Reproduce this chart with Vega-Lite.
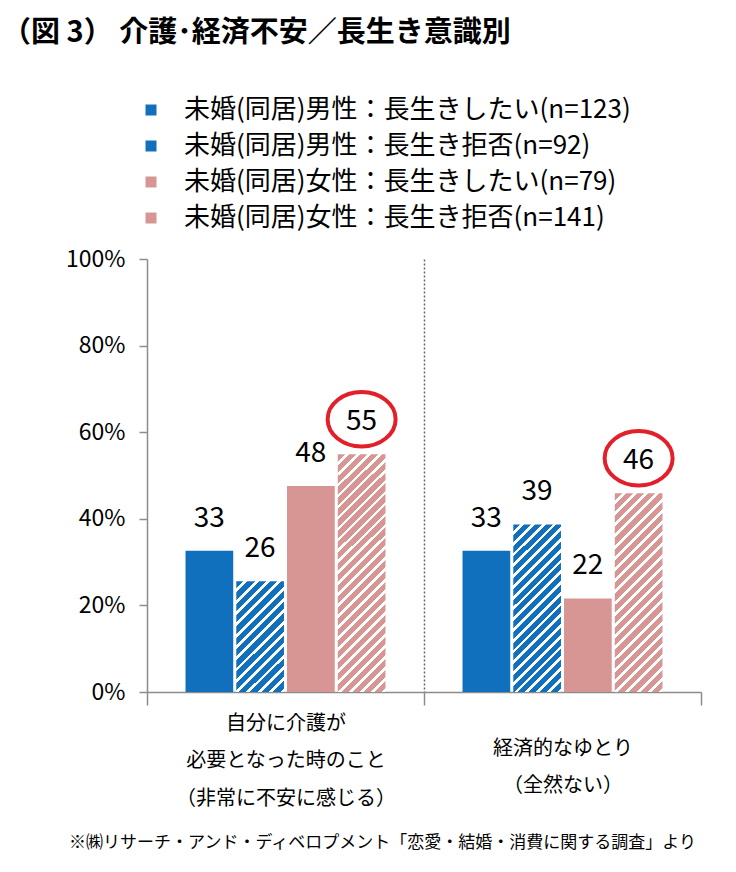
{
  "$schema": "https://vega.github.io/schema/vega-lite/v6.json",
  "width": 554,
  "height": 433,
  "autosize": {"type": "none"},
  "padding": {"left": 147, "top": 259, "right": 35, "bottom": 180},
  "background": "white",
  "config": {"font": "Noto Sans CJK JP", "view": {"stroke": null}},
  "title": {
    "text": "（図 3） 介護･経済不安／長生き意識別",
    "anchor": "start",
    "frame": "group",
    "dx": -145,
    "fontSize": 29,
    "fontWeight": "bold",
    "font": "Noto Sans CJK JP",
    "color": "#000000",
    "offset": 49
  },
  "data": {
    "values": [
      {"group": "自分に介護が|必要となった時のこと|（非常に不安に感じる）", "series": "未婚(同居)男性：長生きしたい(n=123)", "value": 32.6},
      {"group": "自分に介護が|必要となった時のこと|（非常に不安に感じる）", "series": "未婚(同居)男性：長生き拒否(n=92)", "value": 25.6},
      {"group": "自分に介護が|必要となった時のこと|（非常に不安に感じる）", "series": "未婚(同居)女性：長生きしたい(n=79)", "value": 47.6},
      {"group": "自分に介護が|必要となった時のこと|（非常に不安に感じる）", "series": "未婚(同居)女性：長生き拒否(n=141)", "value": 54.9},
      {"group": "経済的なゆとり|（全然ない）", "series": "未婚(同居)男性：長生きしたい(n=123)", "value": 32.6},
      {"group": "経済的なゆとり|（全然ない）", "series": "未婚(同居)男性：長生き拒否(n=92)", "value": 38.7},
      {"group": "経済的なゆとり|（全然ない）", "series": "未婚(同居)女性：長生きしたい(n=79)", "value": 21.6},
      {"group": "経済的なゆとり|（全然ない）", "series": "未婚(同居)女性：長生き拒否(n=141)", "value": 45.9}
    ]
  },
  "encoding": {
    "x": {
      "field": "group",
      "type": "nominal",
      "sort": null,
      "scale": {"paddingInner": 0, "paddingOuter": 0},
      "axis": {
        "title": "※㈱リサーチ・アンド・ディベロプメント「恋愛・結婚・消費に関する調査」より",
        "titleFontSize": 17,
        "titleFontWeight": "normal",
        "titleColor": "#000000",
        "titleX": 235,
        "titleY": 150,
        "titleBaseline": "middle",
        "labelExpr": "split(datum.label, '|')",
        "labelAngle": 0,
        "labelFontSize": 20,
        "labelColor": "#000000",
        "labelLineHeight": 37.5,
        "labelBaseline": {"condition": {"test": "datum.index === 0", "value": "alphabetic"}, "value": "line-top"},
        "labelLimit": 400,
        "labelPadding": 24,
        "tickBand": "extent",
        "tickSize": 13,
        "tickColor": "#8c8c8c",
        "tickWidth": 1.5,
        "domainColor": "#8c8c8c",
        "domainWidth": 1.5,
        "grid": true,
        "gridColor": "#666666",
        "gridDash": [2, 2],
        "gridWidth": 1.5,
        "gridOpacity": {"condition": {"test": "datum.index === 0", "value": 1}, "value": 0}
      }
    },
    "xOffset": {
      "field": "series",
      "type": "nominal",
      "sort": null,
      "scale": {
        "domain": ["未婚(同居)男性：長生きしたい(n=123)", "未婚(同居)男性：長生き拒否(n=92)", "未婚(同居)女性：長生きしたい(n=79)", "未婚(同居)女性：長生き拒否(n=141)"],
        "paddingInner": 0.06,
        "paddingOuter": 0.759
      }
    },
    "y": {
      "field": "value",
      "type": "quantitative",
      "scale": {"domain": [0, 100]},
      "axis": {
        "title": null,
        "values": [0, 20, 40, 60, 80, 100],
        "labelExpr": "datum.value + '%'",
        "labelFontSize": 23,
        "labelColor": "#000000",
        "labelPadding": 14,
        "tickSize": 8,
        "tickColor": "#8c8c8c",
        "tickWidth": 1.5,
        "domainColor": "#8c8c8c",
        "domainWidth": 1.5,
        "grid": false
      }
    }
  },
  "layer": [
    {
      "mark": {"type": "bar"},
      "encoding": {
        "color": {
          "condition": [
            {
              "test": "datum.series === '未婚(同居)男性：長生き拒否(n=92)' && indexof(datum.group, '介護') >= 0",
              "value": {
                "gradient": "linear", "x1": 0, "y1": 0, "x2": 0.5185, "y2": 1.2068,
                "stops": [
                  {"offset": 0, "color": "#1170BD"}, {"offset": 0.0464, "color": "#1170BD"}, {"offset": 0.0464, "color": "#FFFFFF"}, {"offset": 0.0714, "color": "#FFFFFF"},
                  {"offset": 0.0714, "color": "#1170BD"}, {"offset": 0.1179, "color": "#1170BD"}, {"offset": 0.1179, "color": "#FFFFFF"}, {"offset": 0.1429, "color": "#FFFFFF"},
                  {"offset": 0.1429, "color": "#1170BD"}, {"offset": 0.1893, "color": "#1170BD"}, {"offset": 0.1893, "color": "#FFFFFF"}, {"offset": 0.2143, "color": "#FFFFFF"},
                  {"offset": 0.2143, "color": "#1170BD"}, {"offset": 0.2607, "color": "#1170BD"}, {"offset": 0.2607, "color": "#FFFFFF"}, {"offset": 0.2857, "color": "#FFFFFF"},
                  {"offset": 0.2857, "color": "#1170BD"}, {"offset": 0.3321, "color": "#1170BD"}, {"offset": 0.3321, "color": "#FFFFFF"}, {"offset": 0.3571, "color": "#FFFFFF"},
                  {"offset": 0.3571, "color": "#1170BD"}, {"offset": 0.4036, "color": "#1170BD"}, {"offset": 0.4036, "color": "#FFFFFF"}, {"offset": 0.4286, "color": "#FFFFFF"},
                  {"offset": 0.4286, "color": "#1170BD"}, {"offset": 0.475, "color": "#1170BD"}, {"offset": 0.475, "color": "#FFFFFF"}, {"offset": 0.5, "color": "#FFFFFF"},
                  {"offset": 0.5, "color": "#1170BD"}, {"offset": 0.5464, "color": "#1170BD"}, {"offset": 0.5464, "color": "#FFFFFF"}, {"offset": 0.5714, "color": "#FFFFFF"},
                  {"offset": 0.5714, "color": "#1170BD"}, {"offset": 0.6179, "color": "#1170BD"}, {"offset": 0.6179, "color": "#FFFFFF"}, {"offset": 0.6429, "color": "#FFFFFF"},
                  {"offset": 0.6429, "color": "#1170BD"}, {"offset": 0.6893, "color": "#1170BD"}, {"offset": 0.6893, "color": "#FFFFFF"}, {"offset": 0.7143, "color": "#FFFFFF"},
                  {"offset": 0.7143, "color": "#1170BD"}, {"offset": 0.7607, "color": "#1170BD"}, {"offset": 0.7607, "color": "#FFFFFF"}, {"offset": 0.7857, "color": "#FFFFFF"},
                  {"offset": 0.7857, "color": "#1170BD"}, {"offset": 0.8321, "color": "#1170BD"}, {"offset": 0.8321, "color": "#FFFFFF"}, {"offset": 0.8571, "color": "#FFFFFF"},
                  {"offset": 0.8571, "color": "#1170BD"}, {"offset": 0.9036, "color": "#1170BD"}, {"offset": 0.9036, "color": "#FFFFFF"}, {"offset": 0.9286, "color": "#FFFFFF"},
                  {"offset": 0.9286, "color": "#1170BD"}, {"offset": 0.975, "color": "#1170BD"}, {"offset": 0.975, "color": "#FFFFFF"}, {"offset": 1, "color": "#FFFFFF"}
                ]
              }
            },
            {
              "test": "datum.series === '未婚(同居)男性：長生き拒否(n=92)'",
              "value": {
                "gradient": "linear", "x1": 0, "y1": 0, "x2": 0.3374, "y2": 1.1881,
                "stops": [
                  {"offset": 0, "color": "#1170BD"}, {"offset": 0.0325, "color": "#1170BD"}, {"offset": 0.0325, "color": "#FFFFFF"}, {"offset": 0.05, "color": "#FFFFFF"},
                  {"offset": 0.05, "color": "#1170BD"}, {"offset": 0.0825, "color": "#1170BD"}, {"offset": 0.0825, "color": "#FFFFFF"}, {"offset": 0.1, "color": "#FFFFFF"},
                  {"offset": 0.1, "color": "#1170BD"}, {"offset": 0.1325, "color": "#1170BD"}, {"offset": 0.1325, "color": "#FFFFFF"}, {"offset": 0.15, "color": "#FFFFFF"},
                  {"offset": 0.15, "color": "#1170BD"}, {"offset": 0.1825, "color": "#1170BD"}, {"offset": 0.1825, "color": "#FFFFFF"}, {"offset": 0.2, "color": "#FFFFFF"},
                  {"offset": 0.2, "color": "#1170BD"}, {"offset": 0.2325, "color": "#1170BD"}, {"offset": 0.2325, "color": "#FFFFFF"}, {"offset": 0.25, "color": "#FFFFFF"},
                  {"offset": 0.25, "color": "#1170BD"}, {"offset": 0.2825, "color": "#1170BD"}, {"offset": 0.2825, "color": "#FFFFFF"}, {"offset": 0.3, "color": "#FFFFFF"},
                  {"offset": 0.3, "color": "#1170BD"}, {"offset": 0.3325, "color": "#1170BD"}, {"offset": 0.3325, "color": "#FFFFFF"}, {"offset": 0.35, "color": "#FFFFFF"},
                  {"offset": 0.35, "color": "#1170BD"}, {"offset": 0.3825, "color": "#1170BD"}, {"offset": 0.3825, "color": "#FFFFFF"}, {"offset": 0.4, "color": "#FFFFFF"},
                  {"offset": 0.4, "color": "#1170BD"}, {"offset": 0.4325, "color": "#1170BD"}, {"offset": 0.4325, "color": "#FFFFFF"}, {"offset": 0.45, "color": "#FFFFFF"},
                  {"offset": 0.45, "color": "#1170BD"}, {"offset": 0.4825, "color": "#1170BD"}, {"offset": 0.4825, "color": "#FFFFFF"}, {"offset": 0.5, "color": "#FFFFFF"},
                  {"offset": 0.5, "color": "#1170BD"}, {"offset": 0.5325, "color": "#1170BD"}, {"offset": 0.5325, "color": "#FFFFFF"}, {"offset": 0.55, "color": "#FFFFFF"},
                  {"offset": 0.55, "color": "#1170BD"}, {"offset": 0.5825, "color": "#1170BD"}, {"offset": 0.5825, "color": "#FFFFFF"}, {"offset": 0.6, "color": "#FFFFFF"},
                  {"offset": 0.6, "color": "#1170BD"}, {"offset": 0.6325, "color": "#1170BD"}, {"offset": 0.6325, "color": "#FFFFFF"}, {"offset": 0.65, "color": "#FFFFFF"},
                  {"offset": 0.65, "color": "#1170BD"}, {"offset": 0.6825, "color": "#1170BD"}, {"offset": 0.6825, "color": "#FFFFFF"}, {"offset": 0.7, "color": "#FFFFFF"},
                  {"offset": 0.7, "color": "#1170BD"}, {"offset": 0.7325, "color": "#1170BD"}, {"offset": 0.7325, "color": "#FFFFFF"}, {"offset": 0.75, "color": "#FFFFFF"},
                  {"offset": 0.75, "color": "#1170BD"}, {"offset": 0.7825, "color": "#1170BD"}, {"offset": 0.7825, "color": "#FFFFFF"}, {"offset": 0.8, "color": "#FFFFFF"},
                  {"offset": 0.8, "color": "#1170BD"}, {"offset": 0.8325, "color": "#1170BD"}, {"offset": 0.8325, "color": "#FFFFFF"}, {"offset": 0.85, "color": "#FFFFFF"},
                  {"offset": 0.85, "color": "#1170BD"}, {"offset": 0.8825, "color": "#1170BD"}, {"offset": 0.8825, "color": "#FFFFFF"}, {"offset": 0.9, "color": "#FFFFFF"},
                  {"offset": 0.9, "color": "#1170BD"}, {"offset": 0.9325, "color": "#1170BD"}, {"offset": 0.9325, "color": "#FFFFFF"}, {"offset": 0.95, "color": "#FFFFFF"},
                  {"offset": 0.95, "color": "#1170BD"}, {"offset": 0.9825, "color": "#1170BD"}, {"offset": 0.9825, "color": "#FFFFFF"}, {"offset": 1, "color": "#FFFFFF"}
                ]
              }
            },
            {
              "test": "datum.series === '未婚(同居)女性：長生き拒否(n=141)' && indexof(datum.group, '介護') >= 0",
              "value": {
                "gradient": "linear", "x1": 0, "y1": 0, "x2": 0.2311, "y2": 1.154,
                "stops": [
                  {"offset": 0, "color": "#D79594"}, {"offset": 0.025, "color": "#D79594"}, {"offset": 0.025, "color": "#FFFFFF"}, {"offset": 0.0385, "color": "#FFFFFF"},
                  {"offset": 0.0385, "color": "#D79594"}, {"offset": 0.0635, "color": "#D79594"}, {"offset": 0.0635, "color": "#FFFFFF"}, {"offset": 0.0769, "color": "#FFFFFF"},
                  {"offset": 0.0769, "color": "#D79594"}, {"offset": 0.1019, "color": "#D79594"}, {"offset": 0.1019, "color": "#FFFFFF"}, {"offset": 0.1154, "color": "#FFFFFF"},
                  {"offset": 0.1154, "color": "#D79594"}, {"offset": 0.1404, "color": "#D79594"}, {"offset": 0.1404, "color": "#FFFFFF"}, {"offset": 0.1538, "color": "#FFFFFF"},
                  {"offset": 0.1538, "color": "#D79594"}, {"offset": 0.1788, "color": "#D79594"}, {"offset": 0.1788, "color": "#FFFFFF"}, {"offset": 0.1923, "color": "#FFFFFF"},
                  {"offset": 0.1923, "color": "#D79594"}, {"offset": 0.2173, "color": "#D79594"}, {"offset": 0.2173, "color": "#FFFFFF"}, {"offset": 0.2308, "color": "#FFFFFF"},
                  {"offset": 0.2308, "color": "#D79594"}, {"offset": 0.2558, "color": "#D79594"}, {"offset": 0.2558, "color": "#FFFFFF"}, {"offset": 0.2692, "color": "#FFFFFF"},
                  {"offset": 0.2692, "color": "#D79594"}, {"offset": 0.2942, "color": "#D79594"}, {"offset": 0.2942, "color": "#FFFFFF"}, {"offset": 0.3077, "color": "#FFFFFF"},
                  {"offset": 0.3077, "color": "#D79594"}, {"offset": 0.3327, "color": "#D79594"}, {"offset": 0.3327, "color": "#FFFFFF"}, {"offset": 0.3462, "color": "#FFFFFF"},
                  {"offset": 0.3462, "color": "#D79594"}, {"offset": 0.3712, "color": "#D79594"}, {"offset": 0.3712, "color": "#FFFFFF"}, {"offset": 0.3846, "color": "#FFFFFF"},
                  {"offset": 0.3846, "color": "#D79594"}, {"offset": 0.4096, "color": "#D79594"}, {"offset": 0.4096, "color": "#FFFFFF"}, {"offset": 0.4231, "color": "#FFFFFF"},
                  {"offset": 0.4231, "color": "#D79594"}, {"offset": 0.4481, "color": "#D79594"}, {"offset": 0.4481, "color": "#FFFFFF"}, {"offset": 0.4615, "color": "#FFFFFF"},
                  {"offset": 0.4615, "color": "#D79594"}, {"offset": 0.4865, "color": "#D79594"}, {"offset": 0.4865, "color": "#FFFFFF"}, {"offset": 0.5, "color": "#FFFFFF"},
                  {"offset": 0.5, "color": "#D79594"}, {"offset": 0.525, "color": "#D79594"}, {"offset": 0.525, "color": "#FFFFFF"}, {"offset": 0.5385, "color": "#FFFFFF"},
                  {"offset": 0.5385, "color": "#D79594"}, {"offset": 0.5635, "color": "#D79594"}, {"offset": 0.5635, "color": "#FFFFFF"}, {"offset": 0.5769, "color": "#FFFFFF"},
                  {"offset": 0.5769, "color": "#D79594"}, {"offset": 0.6019, "color": "#D79594"}, {"offset": 0.6019, "color": "#FFFFFF"}, {"offset": 0.6154, "color": "#FFFFFF"},
                  {"offset": 0.6154, "color": "#D79594"}, {"offset": 0.6404, "color": "#D79594"}, {"offset": 0.6404, "color": "#FFFFFF"}, {"offset": 0.6538, "color": "#FFFFFF"},
                  {"offset": 0.6538, "color": "#D79594"}, {"offset": 0.6788, "color": "#D79594"}, {"offset": 0.6788, "color": "#FFFFFF"}, {"offset": 0.6923, "color": "#FFFFFF"},
                  {"offset": 0.6923, "color": "#D79594"}, {"offset": 0.7173, "color": "#D79594"}, {"offset": 0.7173, "color": "#FFFFFF"}, {"offset": 0.7308, "color": "#FFFFFF"},
                  {"offset": 0.7308, "color": "#D79594"}, {"offset": 0.7558, "color": "#D79594"}, {"offset": 0.7558, "color": "#FFFFFF"}, {"offset": 0.7692, "color": "#FFFFFF"},
                  {"offset": 0.7692, "color": "#D79594"}, {"offset": 0.7942, "color": "#D79594"}, {"offset": 0.7942, "color": "#FFFFFF"}, {"offset": 0.8077, "color": "#FFFFFF"},
                  {"offset": 0.8077, "color": "#D79594"}, {"offset": 0.8327, "color": "#D79594"}, {"offset": 0.8327, "color": "#FFFFFF"}, {"offset": 0.8462, "color": "#FFFFFF"},
                  {"offset": 0.8462, "color": "#D79594"}, {"offset": 0.8712, "color": "#D79594"}, {"offset": 0.8712, "color": "#FFFFFF"}, {"offset": 0.8846, "color": "#FFFFFF"},
                  {"offset": 0.8846, "color": "#D79594"}, {"offset": 0.9096, "color": "#D79594"}, {"offset": 0.9096, "color": "#FFFFFF"}, {"offset": 0.9231, "color": "#FFFFFF"},
                  {"offset": 0.9231, "color": "#D79594"}, {"offset": 0.9481, "color": "#D79594"}, {"offset": 0.9481, "color": "#FFFFFF"}, {"offset": 0.9615, "color": "#FFFFFF"},
                  {"offset": 0.9615, "color": "#D79594"}, {"offset": 0.9865, "color": "#D79594"}, {"offset": 0.9865, "color": "#FFFFFF"}, {"offset": 1, "color": "#FFFFFF"}
                ]
              }
            },
            {
              "test": "datum.series === '未婚(同居)女性：長生き拒否(n=141)'",
              "value": {
                "gradient": "linear", "x1": 0, "y1": 0, "x2": 0.2808, "y2": 1.1723,
                "stops": [
                  {"offset": 0, "color": "#D79594"}, {"offset": 0.0295, "color": "#D79594"}, {"offset": 0.0295, "color": "#FFFFFF"}, {"offset": 0.0455, "color": "#FFFFFF"},
                  {"offset": 0.0455, "color": "#D79594"}, {"offset": 0.075, "color": "#D79594"}, {"offset": 0.075, "color": "#FFFFFF"}, {"offset": 0.0909, "color": "#FFFFFF"},
                  {"offset": 0.0909, "color": "#D79594"}, {"offset": 0.1205, "color": "#D79594"}, {"offset": 0.1205, "color": "#FFFFFF"}, {"offset": 0.1364, "color": "#FFFFFF"},
                  {"offset": 0.1364, "color": "#D79594"}, {"offset": 0.1659, "color": "#D79594"}, {"offset": 0.1659, "color": "#FFFFFF"}, {"offset": 0.1818, "color": "#FFFFFF"},
                  {"offset": 0.1818, "color": "#D79594"}, {"offset": 0.2114, "color": "#D79594"}, {"offset": 0.2114, "color": "#FFFFFF"}, {"offset": 0.2273, "color": "#FFFFFF"},
                  {"offset": 0.2273, "color": "#D79594"}, {"offset": 0.2568, "color": "#D79594"}, {"offset": 0.2568, "color": "#FFFFFF"}, {"offset": 0.2727, "color": "#FFFFFF"},
                  {"offset": 0.2727, "color": "#D79594"}, {"offset": 0.3023, "color": "#D79594"}, {"offset": 0.3023, "color": "#FFFFFF"}, {"offset": 0.3182, "color": "#FFFFFF"},
                  {"offset": 0.3182, "color": "#D79594"}, {"offset": 0.3477, "color": "#D79594"}, {"offset": 0.3477, "color": "#FFFFFF"}, {"offset": 0.3636, "color": "#FFFFFF"},
                  {"offset": 0.3636, "color": "#D79594"}, {"offset": 0.3932, "color": "#D79594"}, {"offset": 0.3932, "color": "#FFFFFF"}, {"offset": 0.4091, "color": "#FFFFFF"},
                  {"offset": 0.4091, "color": "#D79594"}, {"offset": 0.4386, "color": "#D79594"}, {"offset": 0.4386, "color": "#FFFFFF"}, {"offset": 0.4545, "color": "#FFFFFF"},
                  {"offset": 0.4545, "color": "#D79594"}, {"offset": 0.4841, "color": "#D79594"}, {"offset": 0.4841, "color": "#FFFFFF"}, {"offset": 0.5, "color": "#FFFFFF"},
                  {"offset": 0.5, "color": "#D79594"}, {"offset": 0.5295, "color": "#D79594"}, {"offset": 0.5295, "color": "#FFFFFF"}, {"offset": 0.5455, "color": "#FFFFFF"},
                  {"offset": 0.5455, "color": "#D79594"}, {"offset": 0.575, "color": "#D79594"}, {"offset": 0.575, "color": "#FFFFFF"}, {"offset": 0.5909, "color": "#FFFFFF"},
                  {"offset": 0.5909, "color": "#D79594"}, {"offset": 0.6205, "color": "#D79594"}, {"offset": 0.6205, "color": "#FFFFFF"}, {"offset": 0.6364, "color": "#FFFFFF"},
                  {"offset": 0.6364, "color": "#D79594"}, {"offset": 0.6659, "color": "#D79594"}, {"offset": 0.6659, "color": "#FFFFFF"}, {"offset": 0.6818, "color": "#FFFFFF"},
                  {"offset": 0.6818, "color": "#D79594"}, {"offset": 0.7114, "color": "#D79594"}, {"offset": 0.7114, "color": "#FFFFFF"}, {"offset": 0.7273, "color": "#FFFFFF"},
                  {"offset": 0.7273, "color": "#D79594"}, {"offset": 0.7568, "color": "#D79594"}, {"offset": 0.7568, "color": "#FFFFFF"}, {"offset": 0.7727, "color": "#FFFFFF"},
                  {"offset": 0.7727, "color": "#D79594"}, {"offset": 0.8023, "color": "#D79594"}, {"offset": 0.8023, "color": "#FFFFFF"}, {"offset": 0.8182, "color": "#FFFFFF"},
                  {"offset": 0.8182, "color": "#D79594"}, {"offset": 0.8477, "color": "#D79594"}, {"offset": 0.8477, "color": "#FFFFFF"}, {"offset": 0.8636, "color": "#FFFFFF"},
                  {"offset": 0.8636, "color": "#D79594"}, {"offset": 0.8932, "color": "#D79594"}, {"offset": 0.8932, "color": "#FFFFFF"}, {"offset": 0.9091, "color": "#FFFFFF"},
                  {"offset": 0.9091, "color": "#D79594"}, {"offset": 0.9386, "color": "#D79594"}, {"offset": 0.9386, "color": "#FFFFFF"}, {"offset": 0.9545, "color": "#FFFFFF"},
                  {"offset": 0.9545, "color": "#D79594"}, {"offset": 0.9841, "color": "#D79594"}, {"offset": 0.9841, "color": "#FFFFFF"}, {"offset": 1, "color": "#FFFFFF"}
                ]
              }
            }
          ],
          "field": "series",
          "type": "nominal",
          "sort": null,
          "scale": {
            "domain": ["未婚(同居)男性：長生きしたい(n=123)", "未婚(同居)男性：長生き拒否(n=92)", "未婚(同居)女性：長生きしたい(n=79)", "未婚(同居)女性：長生き拒否(n=141)"],
            "range": ["#1170BD", "#1170BD", "#D79594", "#D79594"]
          },
          "legend": {
            "orient": "none",
            "legendX": -9,
            "legendY": -162,
            "direction": "vertical",
            "title": null,
            "padding": 0,
            "symbolType": "square",
            "symbolSize": 121,
            "symbolStrokeWidth": 0,
            "labelFontSize": 26,
            "labelColor": "#000000",
            "labelOffset": 20,
            "labelLimit": 600,
            "rowPadding": 10,
            "encode": {
              "symbols": {
                "update": {
                  "fill": {
                    "signal": "indexof(datum.value, '男性：長生き拒否') >= 0 ? {gradient: 'linear', x1: 0, y1: 0, x2: 1, y2: 1, stops: [{offset: 0, color: '#1170BD'}, {offset: 0.45, color: '#1170BD'}, {offset: 0.45, color: '#FFFFFF'}, {offset: 0.62, color: '#FFFFFF'}, {offset: 0.62, color: '#1170BD'}, {offset: 1, color: '#1170BD'}]} : indexof(datum.value, '女性：長生き拒否') >= 0 ? {gradient: 'linear', x1: 0, y1: 0, x2: 1, y2: 1, stops: [{offset: 0, color: '#FFFFFF'}, {offset: 0.2, color: '#FFFFFF'}, {offset: 0.2, color: '#D79594'}, {offset: 0.8, color: '#D79594'}, {offset: 0.8, color: '#FFFFFF'}, {offset: 1, color: '#FFFFFF'}]} : scale('color', datum.value)"
                  }
                }
              }
            }
          }
        }
      }
    },
    {
      "mark": {"type": "text", "dy": -32, "fontSize": 28, "color": "#000000", "baseline": "middle"},
      "encoding": {
        "text": {"field": "value", "type": "quantitative", "format": ".0f"}
      }
    },
    {
      "transform": [{"filter": "indexof(datum.series, '女性：長生き拒否') >= 0"}],
      "mark": {
        "type": "point",
        "shape": "M -1 0 C -1 -0.442 -0.552 -0.8 0 -0.8 C 0.552 -0.8 1 -0.442 1 0 C 1 0.442 0.552 0.8 0 0.8 C -0.552 0.8 -1 0.442 -1 0 Z",
        "size": 4624,
        "filled": false,
        "color": "#E3202A",
        "strokeWidth": 4,
        "opacity": 1
      },
      "encoding": {
        "yOffset": {"value": -35}
      }
    }
  ]
}
